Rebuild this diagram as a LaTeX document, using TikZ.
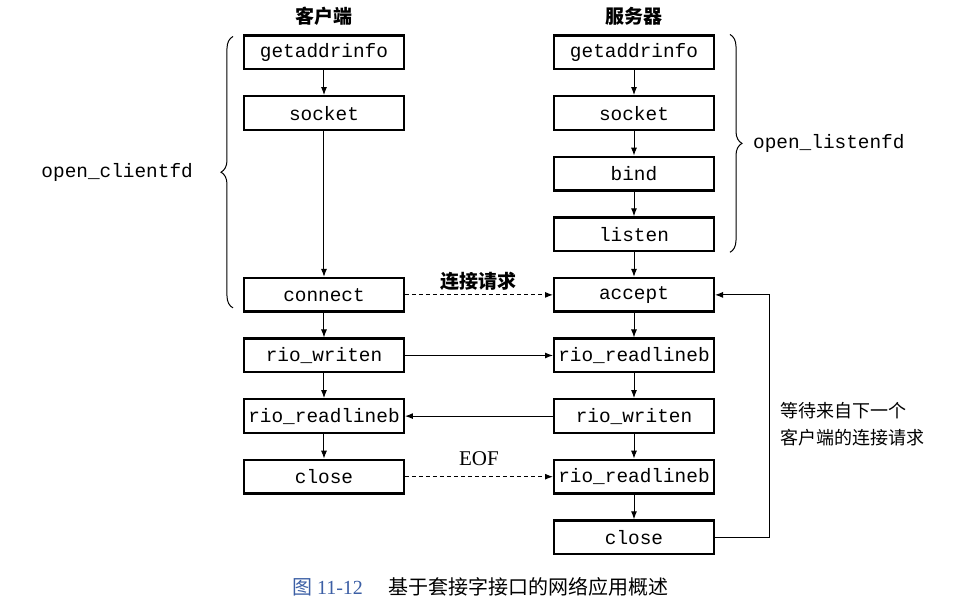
\documentclass[tikz,border=0pt]{standalone}
\usepackage{fontspec}
\setmainfont{Liberation Serif}
\setmonofont{Liberation Mono}
\newfontfamily\cjk{Noto Sans CJK SC}
\usetikzlibrary{arrows.meta}
\usetikzlibrary{positioning}
\usetikzlibrary{calc}
\usetikzlibrary{decorations.pathreplacing}
\definecolor{capBlue}{RGB}{60,95,165}
\tikzset{
	func/.style={rectangle, draw=black, line width=1.2pt, minimum width=79.8pt, minimum height=16.8pt, inner xsep=1pt, inner ysep=0pt, font=\ttfamily\fontsize{9.7}{11}\selectfont},
	side/.style={font=\cjk\bfseries\fontsize{9.5}{11}\selectfont},
	fdLabel/.style={font=\ttfamily\fontsize{9.7}{11}\selectfont},
}

\begin{document}
\begin{tikzpicture} [
		flow/.style={line width=0.5pt, -{Latex[length=4pt,width=3pt]}},
		req/.style={flow, dash pattern=on 2pt off 1.5pt},
		curly/.style={decorate, decoration={brace, amplitude=6pt}, line width=0.5pt},
		node distance = 12.3pt and 74pt]
		
		% fix the page to the size of the reference
		\useasboundingbox (-317pt,26.25pt) rectangle (170pt,-280.25pt);
		
		% create server column - sGetAddr used as start point
		\node[func] (sGetAddr) at (0,0) {getaddrinfo};
		\node[func, below = of sGetAddr] (sSock) {socket};
		\node[func, below = of sSock] (sBind) {bind};
		\node[func, below = of sBind] (sListen) {listen};
		\node[func, below = of sListen] (sAccept) {accept};
		\node[func, below = of sAccept] (sRead) {rio\_readlineb};
		\node[func, below = of sRead] (sWrite) {rio\_writen};
		\node[func, below = of sWrite] (sReadEnd) {rio\_readlineb};
		\node[func, below = of sReadEnd] (sClose) {close};
		
		% create client column, lined up with the server rows
		\node[func, left = of sGetAddr] (cGetAddr) {getaddrinfo};
		\node[func, left = of sSock] (cSock) {socket};
		\node[func, left = of sAccept] (cConn) {connect};
		\node[func, left = of sRead] (cWrite) {rio\_writen};
		\node[func, left = of sWrite] (cRead) {rio\_readlineb};
		\node[func, left = of sReadEnd] (cClose) {close};
		
		% column titles
		\node[side, above = 1pt of cGetAddr] (cTitle) {客户端};
		\node[side, above = 1pt of sGetAddr] (sTitle) {服务器};
		
		% vertical flow in each column
		\foreach \from/\to in {cGetAddr/cSock, cSock/cConn, cConn/cWrite, cWrite/cRead, cRead/cClose,
			sGetAddr/sSock, sSock/sBind, sBind/sListen, sListen/sAccept, sAccept/sRead, sRead/sWrite, sWrite/sReadEnd, sReadEnd/sClose}
		{
			\draw[flow] (\from) -- (\to);
		}
		
		% messages between client and server
		\draw[req] (cConn) -- node[side, above = -1.5pt] (reqLabel) {连接请求} (sAccept);
		\draw[flow] (cWrite) -- (sRead);
		\draw[flow] (sWrite) -- (cRead);
		\draw[req] (cClose) -- node[above = 2pt, font=\fontsize{10.5}{12}\selectfont] (eofLabel) {EOF} (sReadEnd);
		
		% braces round the open_* helpers
		\draw[curly] ([xshift=-5pt, yshift=2.5pt]cConn.south west) -- ([xshift=-5pt, yshift=-1pt]cGetAddr.north west)
			node[fdLabel, midway, left = 16.5pt] (clientFd) {open\_clientfd};
		\draw[curly] ([xshift=7.5pt]sGetAddr.north east) -- ([xshift=7.5pt]sListen.south east)
			node[fdLabel, midway, right = 8pt] (listenFd) {open\_listenfd};
		
		% loop back to accept
		\coordinate[right = 27pt of sClose] (loopBot);
		\coordinate (loopTop) at (loopBot |- sAccept);
		\draw[flow] (sClose) -- (loopBot) -- (loopTop) -- (sAccept);
		\node[anchor=west, align=left, inner sep=0pt, font=\cjk\fontsize{9}{13.5}\selectfont] (waitNote)
			at ($(loopTop |- sWrite)+(5.5pt,-4pt)$) {等待来自下一个\\客户端的连接请求};
		
		% figure caption
		\node (caption) at ($(cClose |- sClose)!0.5!(sClose)+(0.75pt,-24.75pt)$)
			{\fontsize{10}{12}\selectfont\textcolor{capBlue}{{\cjk 图} 11-12}\hspace{13pt}{\cjk 基于套接字接口的网络应用概述}};
		
\end{tikzpicture}
\end{document}
